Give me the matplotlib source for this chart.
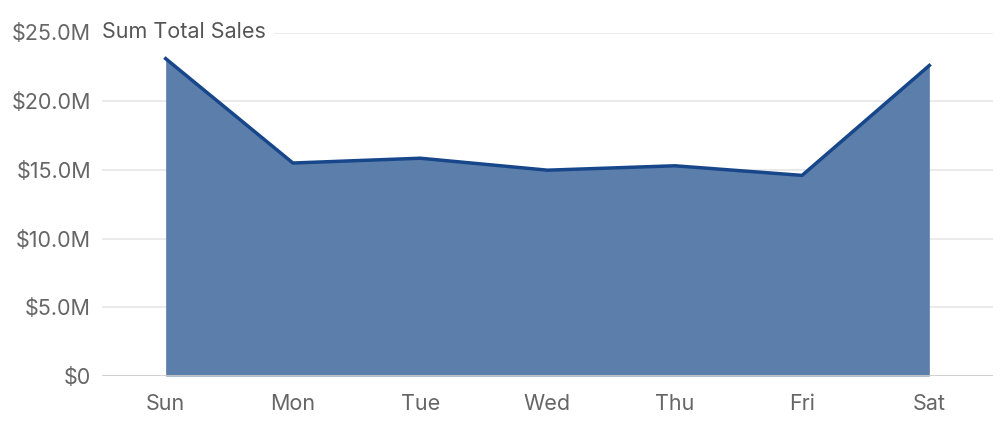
import matplotlib
matplotlib.use("Agg")
import matplotlib.pyplot as plt
from matplotlib.ticker import FuncFormatter

days = ["Sun", "Mon", "Tue", "Wed", "Thu", "Fri", "Sat"]
sales = [23.1e6, 15.5e6, 15.85e6, 14.98e6, 15.3e6, 14.6e6, 22.6e6]
yticks = [0, 5e6, 10e6, 15e6, 20e6, 25e6]

plt.rcParams['font.family'] = ['Inter', 'DejaVu Sans']

fig = plt.figure(figsize=(10, 4.3), dpi=100)
ax = fig.add_axes([0.102, 1 - 376/430, 0.993 - 0.102, (376 - 32.5)/430])

x = list(range(len(days)))
ax.fill_between(x, sales, 0, color="#5b7faa", linewidth=0, zorder=2)
ax.plot(x, sales, color="#17478a", linewidth=2.5, solid_joinstyle="round", zorder=3)

ax.set_xlim(-0.5, 6.5)
ax.set_ylim(0, 25e6)
ax.set_yticks(yticks)

def fmt(v, pos):
    if v == 0:
        return "$0"
    return "${:.1f}M".format(v / 1e6)

ax.yaxis.set_major_formatter(FuncFormatter(fmt))
ax.set_xticks(x)
ax.set_xticklabels(days)

for t in yticks[1:]:
    ax.axhline(t, color="#e6e6e6", linewidth=1.2, zorder=1)
ax.axhline(0, color="#cccccc", linewidth=2, zorder=4)

for s in ax.spines.values():
    s.set_visible(False)
ax.tick_params(axis="both", length=0, labelsize=15.5, colors="#666666")
ax.tick_params(axis="y", pad=8)
ax.tick_params(axis="x", pad=13)

ax.text(0.0, 25e6, "Sum Total Sales", transform=ax.get_yaxis_transform(),
        ha="left", va="center", fontsize=15.5, color="#555555", zorder=5,
        bbox=dict(facecolor="white", edgecolor="none", pad=6))

fig.savefig("out.png", dpi=100)
